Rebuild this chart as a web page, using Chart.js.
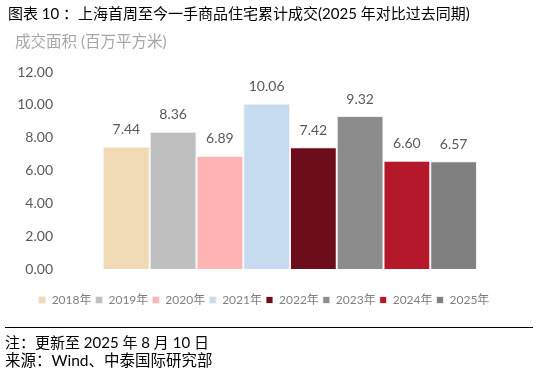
<!DOCTYPE html>
<html>
<head>
<meta charset="utf-8">
<script src="https://cdn.jsdelivr.net/npm/chart.js@4/dist/chart.umd.min.js"></script>
<style>
  html, body { margin: 0; padding: 0; background: #fff; }
  body { width: 539px; height: 373px; position: relative; overflow: hidden;
         font-family: "Lato", "Noto Sans CJK SC", sans-serif; }
  #wrap { position: absolute; left: 0; top: 0; width: 539px; height: 373px; }
  .txt { position: absolute; white-space: nowrap; line-height: 1; }
  #title { left: 8px; top: 6px; font-size: 15px; color: #000; }
  #ytitle { left: 15px; top: 34px; font-size: 15.5px; color: #a6a6a6; }
  #rule { position: absolute; left: 5px; top: 327px; width: 528px; height: 1px; background: #000; }
  #note { left: 5px; top: 335px; font-size: 15px; color: #000; }
  #src { left: 5px; top: 353px; font-size: 15.5px; color: #000; }
</style>
</head>
<body>
<div id="wrap"><canvas id="c"></canvas></div>
<div class="txt" id="title">图表 10 ：上海首周至今一手商品住宅累计成交(2025 年对比过去同期)</div>
<div class="txt" id="ytitle">成交面积 (百万平方米)</div>
<div id="rule"></div>
<div class="txt" id="note">注：更新至 2025 年 8 月 10 日</div>
<div class="txt" id="src">来源：Wind、中泰国际研究部</div>
<script>
const years = ['2018年', '2019年', '2020年', '2021年', '2022年', '2023年', '2024年', '2025年'];
const values = [7.44, 8.36, 6.89, 10.06, 7.42, 9.32, 6.60, 6.57];
const colors = ['#EFDAB3', '#BFBFBF', '#FFB4B4', '#C6DBEF', '#6D0C1A', '#8C8C8C', '#B5172B', '#808080'];
const yTicks = [0, 2, 4, 6, 8, 10, 12];

const datasets = years.map((y, i) => ({
  label: y,
  data: [values[i]],
  backgroundColor: colors[i],
  borderColor: 'rgba(240,240,240,0.9)',
  borderWidth: 1,
  categoryPercentage: 0.813,
  barPercentage: 1.0
}));

const valueLabels = {
  id: 'valueLabels',
  afterDatasetsDraw(chart) {
    const ctx = chart.ctx;
    ctx.save();
    ctx.font = '14px "Lato", "Noto Sans CJK SC", sans-serif';
    ctx.fillStyle = '#595959';
    ctx.textAlign = 'center';
    ctx.textBaseline = 'middle';
    chart.data.datasets.forEach((ds, i) => {
      const meta = chart.getDatasetMeta(i);
      meta.data.forEach((bar, j) => {
        ctx.fillText(ds.data[j].toFixed(2), bar.x, bar.y - 17);
      });
    });
    ctx.restore();
  }
};

new Chart(document.getElementById('c'), {
  type: 'bar',
  data: { labels: [''], datasets },
  options: {
    responsive: true,
    maintainAspectRatio: false,
    animation: false,
    layout: { padding: { top: 72, bottom: 57, left: 8, right: 19 } },
    scales: {
      x: {
        display: true,
        grid: { display: false },
        border: { display: false },
        ticks: { display: false },
        afterFit(scale) { scale.height = 21; }
      },
      y: {
        min: 0, max: 12,
        afterBuildTicks(scale) { scale.ticks = yTicks.map(v => ({ value: v })); },
        afterFit(scale) { scale.width = 52; },
        grid: { display: false, drawTicks: false },
        border: { display: false },
        ticks: {
          padding: 7,
          color: '#595959',
          font: { family: '"Lato", "Noto Sans CJK SC", sans-serif', size: 14 },
          callback: v => Number(v).toFixed(2)
        }
      }
    },
    plugins: {
      tooltip: { enabled: false },
      legend: {
        position: 'bottom',
        labels: {
          boxWidth: 7, boxHeight: 7, padding: 4,
          color: '#7f7f7f',
          font: { family: '"Lato", "Noto Sans CJK SC", sans-serif', size: 12 }
        }
      }
    }
  },
  plugins: [valueLabels]
});
</script>
</body>
</html>
